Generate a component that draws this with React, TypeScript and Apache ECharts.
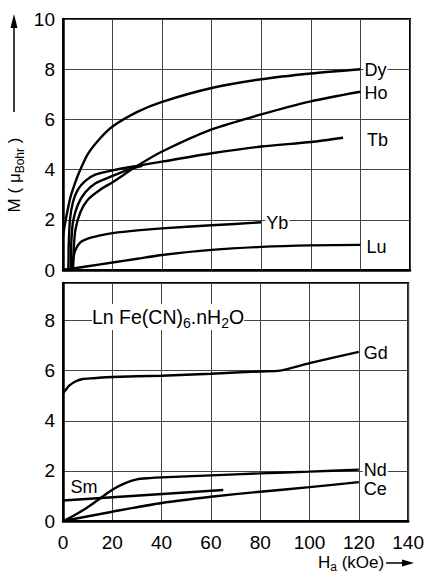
import React, { useEffect, useRef } from 'react';
import * as echarts from 'echarts';

const FONT = '"Liberation Sans", Arial, sans-serif';

// x ticks (kOe)
const xTickValues = [0, 20, 40, 60, 80, 100, 120, 140];

// Top panel series
const dy = [[0, 1.35], [1, 1.95], [2, 2.45], [3, 2.9], [5, 3.5], [7, 4.0], [10, 4.62], [15, 5.25], [20, 5.72], [30, 6.3], [40, 6.7], [60, 7.25], [80, 7.6], [100, 7.83], [120, 8.0]];
const ho = [[0, 0], [4, 0], [4.3, 0.8], [5, 1.6], [7, 2.3], [10, 2.8], [15, 3.2], [20, 3.5], [30, 4.15], [40, 4.72], [60, 5.6], [80, 6.2], [100, 6.72], [120, 7.1]];
const tb = [[0, 0], [2, 0], [2.3, 1.0], [2.8, 2.0], [4, 2.7], [6, 3.2], [9, 3.55], [13, 3.8], [20, 3.97], [30, 4.15], [40, 4.32], [60, 4.65], [80, 4.92], [100, 5.1], [113, 5.27]];
const tbBranch = [[0, 0], [3, 0], [3.3, 1.0], [4, 1.9], [6, 2.6], [9, 3.1], [13, 3.45], [20, 3.75], [27, 4.02], [32, 4.15]];
const yb = [[0, 0], [3.5, 0], [4, 0.4], [5, 0.8], [7, 1.1], [10, 1.25], [15, 1.38], [20, 1.47], [30, 1.58], [40, 1.66], [60, 1.78], [80, 1.9]];
const lu = [[0, 0], [10, 0.15], [20, 0.3], [30, 0.45], [40, 0.6], [60, 0.8], [80, 0.92], [100, 0.98], [120, 1.0]];

// Bottom panel series
const gd = [[0, 5.1], [1, 5.22], [2.5, 5.4], [5, 5.57], [8, 5.67], [12, 5.7], [20, 5.75], [40, 5.8], [60, 5.88], [80, 5.97], [88, 6.0], [100, 6.3], [120, 6.75]];
const nd = [[0, 0], [5, 0.25], [10, 0.55], [15, 0.9], [20, 1.25], [25, 1.5], [30, 1.66], [35, 1.71], [40, 1.74], [60, 1.82], [80, 1.9], [100, 1.97], [120, 2.05]];
const sm = [[0, 0.82], [65, 1.24]];
const ce = [[0, 0], [20, 0.37], [40, 0.72], [60, 0.97], [80, 1.17], [100, 1.35], [120, 1.55]];

const labelStyle = (text: string, distance = 3, offset: number[] = [0, 1]) => ({
  show: true,
  formatter: text,
  color: '#000',
  fontSize: 18,
  lineHeight: 16,
  fontFamily: FONT,
  distance,
  offset,
  backgroundColor: '#fff',
  padding: [0, 1],
});

const curve = (name: string, data: number[][], grid: number, endLabel?: any) => ({
  name,
  type: 'line',
  data,
  xAxisIndex: grid,
  yAxisIndex: grid,
  showSymbol: false,
  symbol: 'none',
  smooth: 0.25,
  lineStyle: { color: '#000', width: 2.4 },
  endLabel: endLabel || { show: false },
  z: 3,
});

export default function App() {
  const ref = useRef<HTMLDivElement>(null);
  useEffect(() => {
    if (!ref.current) return;
    const chart = echarts.init(ref.current, undefined, { renderer: 'svg' });
    const splitLine = { show: true, lineStyle: { color: '#444', width: 1 } };
    const xBase = {
      type: 'value',
      min: 0,
      max: 140,
      interval: 20,
      axisTick: { show: false },
      axisLine: { show: true, lineStyle: { color: '#000', width: 2.5 } },
      splitLine,
    };
    const yBase = {
      type: 'value',
      min: 0,
      interval: 2,
      axisTick: { show: false },
      axisLine: { show: true, lineStyle: { color: '#000', width: 2.5 } },
      splitLine,
      axisLabel: { color: '#000', fontSize: 19, fontFamily: FONT, margin: 8 },
    };
    chart.setOption({
      animation: false,
      backgroundColor: '#fff',
      grid: [
        { left: 63, top: 19, width: 347, height: 251, show: true, borderColor: '#000', borderWidth: 2 },
        { left: 63, top: 283, width: 347, height: 238, show: true, borderColor: '#000', borderWidth: 2 },
      ],
      xAxis: [
        { ...xBase, gridIndex: 0, axisLabel: { show: false } },
        {
          ...xBase,
          gridIndex: 1,
          axisLabel: {
            color: '#000', fontSize: 19, fontFamily: FONT, margin: 12,
            formatter: (v: number) => (xTickValues.includes(v) ? String(v) : ''),
          },
        },
      ],
      yAxis: [
        { ...yBase, gridIndex: 0, max: 10 },
        { ...yBase, gridIndex: 1, max: 9.5, axisLabel: { ...yBase.axisLabel, showMaxLabel: false } },
      ],
      series: [
        curve('Dy', dy, 0, labelStyle('Dy')),
        curve('Ho', ho, 0, labelStyle('Ho')),
        curve('Tb', tb, 0, labelStyle('Tb', 23, [0, 2])),
        curve('Tb-branch', tbBranch, 0),
        curve('Yb', yb, 0, labelStyle('Yb', 4)),
        curve('Lu', lu, 0, labelStyle('Lu', 5, [0, 2])),
        curve('Gd', gd, 1, labelStyle('Gd', 4)),
        curve('Nd', nd, 1, labelStyle('Nd', 4, [0, 0])),
        {
          ...curve('Sm', sm, 1),
          markPoint: {
            symbol: 'circle',
            symbolSize: 0,
            silent: true,
            label: { show: true, formatter: 'Sm', color: '#000', fontSize: 18, fontFamily: FONT, position: 'inside' },
            data: [{ coord: [8.5, 1.36] }],
          },
        },
        curve('Ce', ce, 1, labelStyle('Ce', 4, [0, 7])),
      ],
      graphic: [
        {
          type: 'text',
          x: 92,
          y: 317,
          z: 10,
          style: {
            text: '{m|Ln Fe(CN)}{s|6}{m|.nH}{s|2}{m|O}',
            fill: '#000',
            backgroundColor: '#fff',
            verticalAlign: 'middle',
            align: 'left',
            rich: {
              m: { fontSize: 19.5, fontFamily: FONT, lineHeight: 26, verticalAlign: 'middle' },
              s: { fontSize: 14, fontFamily: FONT, lineHeight: 26, verticalAlign: 'bottom' },
            },
          },
        },
        {
          type: 'text',
          x: 14,
          y: 175,
          rotation: Math.PI / 2,
          style: {
            text: '{m|M ( μ}{s|Bohr}{m| )}',
            fill: '#000',
            align: 'center',
            verticalAlign: 'middle',
            rich: {
              m: { fontSize: 17, fontFamily: FONT, lineHeight: 24, verticalAlign: 'middle' },
              s: { fontSize: 12, fontFamily: FONT, lineHeight: 24, verticalAlign: 'bottom' },
            },
          },
        },
        { type: 'line', shape: { x1: 14, y1: 112, x2: 14, y2: 26 }, style: { stroke: '#000', lineWidth: 1.5 } },
        { type: 'polygon', shape: { points: [[14, 14], [10.5, 28], [17.5, 28]] }, style: { fill: '#000' } },
        {
          type: 'text',
          x: 318,
          y: 562,
          style: {
            text: '{m|H}{s|a}{m| (kOe)}',
            fill: '#000',
            align: 'left',
            verticalAlign: 'middle',
            rich: {
              m: { fontSize: 17, fontFamily: FONT, lineHeight: 22, verticalAlign: 'middle' },
              s: { fontSize: 12, fontFamily: FONT, lineHeight: 22, verticalAlign: 'bottom' },
            },
          },
        },
        { type: 'line', shape: { x1: 386, y1: 563, x2: 404, y2: 563 }, style: { stroke: '#000', lineWidth: 1.5 } },
        { type: 'polygon', shape: { points: [[414, 563], [402, 559.5], [402, 566.5]] }, style: { fill: '#000' } },
      ],
    });
    return () => chart.dispose();
  }, []);
  return <div ref={ref} style={{ position: 'absolute', left: 0, top: 0, width: 427, height: 576 }} />;
}
